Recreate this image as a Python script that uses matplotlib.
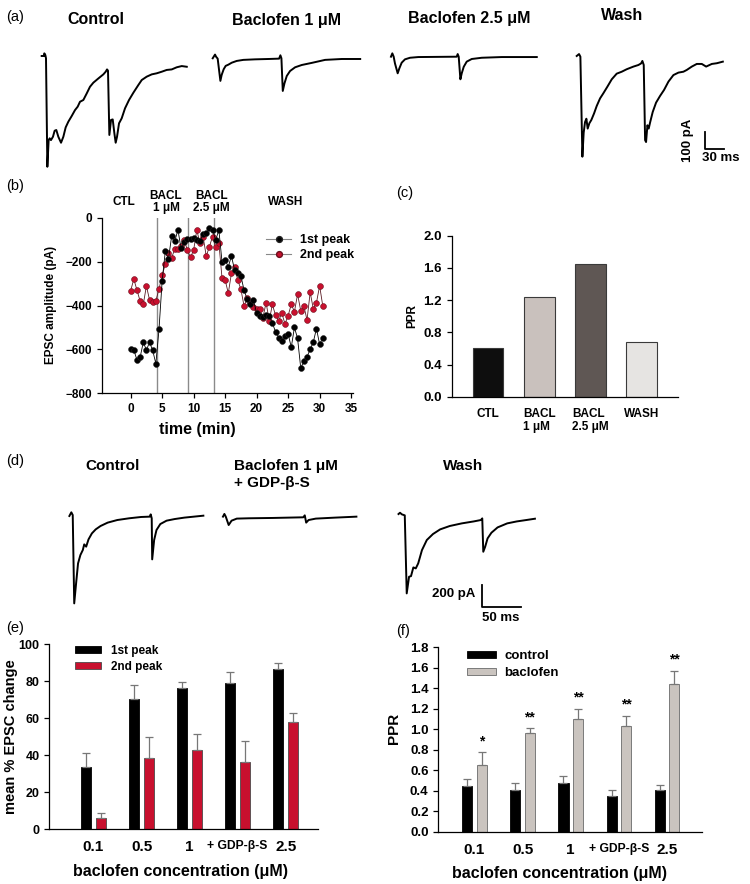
import numpy as np
import matplotlib
matplotlib.use("Agg")
import matplotlib.pyplot as plt
from matplotlib.lines import Line2D

plt.rcParams['font.family'] = ['Liberation Sans', 'DejaVu Sans']
plt.rcParams['font.weight'] = 'bold'
plt.rcParams['axes.labelweight'] = 'bold'
plt.rcParams['axes.linewidth'] = 0.9

# ---------------- data ----------------
# (a) example traces, time (ms) and current (pA)
a_ctl_t = [-4.1, -0.5, 0, 1.6, 2.6, 4.7, 6.7, 8.3, 10.3, 13.4, 16.0, 18.6, 21.7, 25.9, 29.5, 33.1, 37.2,
           42.4, 47.6, 51.7, 55.3, 60.5, 65.7, 70.8, 76, 83.8, 91.5, 95.1, 97.2, 98.7, 100.8, 103.4, 106,
           108.6, 110.6, 112.7, 115.8, 119.9, 125.1, 131.3, 138, 145.8, 151, 158.7, 166.5, 174.2, 182,
           189.7, 197.5, 205.2, 213, 220.8]
a_ctl_i = [4, 4, 19, 9, -9, -623, -472, -462, -472, -453, -419, -415, -453, -487, -453, -400, -368,
           -336, -302, -283, -255, -245, -208, -170, -147, -123, -100, -85, -72, -79, -443, -358, -355,
           -434, -487, -453, -377, -349, -292, -245, -204, -160, -132, -113, -100, -94, -85,
           -75, -72, -60, -53, -57]
a_b1_t = [-3.6, 0, 1.6, 4.1, 8.3, 10.3, 13.4, 16.5, 20.7, 25.9, 33.6, 43.9, 62, 82.7, 99.3, 101.3,
          102.9, 105, 107.6, 111.2, 116.3, 124.1, 134.4, 150, 170.6, 196.5, 225]
a_b1_i = [0, 21, 9, -2, -128, -94, -62, -43, -36, -25, -15, -9, -6, -4, -2, 17,
          0, -185, -142, -100, -72, -51, -38, -26, -9, -4, -4]
a_b25_t = [-2.1, 0, 2.1, 4.1, 8.3, 10.9, 14.5, 19.6, 27.4, 40.3, 99.8, 101.3, 102.9, 105.5, 107.6,
           110.7, 115.3, 123.1, 138.6, 169.6, 223.9]
a_b25_i = [0, 19, 0, -38, -94, -66, -34, -15, -6, -2, 0, 15, 0, -128, -94,
           -57, -28, -13, -6, -2, -2]
a_wash_t = [-3.6, 0, 2.1, 5.2, 7.2, 9.3, 11.4, 13.4, 16, 19.1, 23.3, 27.4, 32.6, 37.7, 43.9, 50.7,
            58.4, 66.2, 73.9, 84.3, 92, 96.2, 98.2, 100.3, 102.4, 103.9, 106, 108, 110.1, 114.2, 119.4,
            125.6, 131.8, 138.6, 146.3, 154.1, 161.8, 167, 174.8, 182.5, 190.3, 197, 205.8, 213.6, 222.9]
a_wash_i = [0, 11, -4, -570, -434, -374, -355, -411, -381, -362, -325, -283, -240, -211, -174, -132,
            -100, -89, -75, -60, -51, -42, -28, -51, -476, -487, -392, -411, -377, -317, -264,
            -226, -192, -145, -108, -94, -89, -79, -60, -45, -45, -60, -45, -41, -32]
a_titles = ['Control', 'Baclofen 1 \u03bcM', 'Baclofen 2.5 \u03bcM', 'Wash']

# (b) time course
time_min = [0, 0.5, 1, 1.5, 2, 2.5, 3, 3.5, 4, 4.5, 5, 5.5, 6, 6.5, 7, 7.5, 8, 8.5, 9, 9.5,
            10, 10.5, 11, 11.5, 12, 12.5, 13, 13.5, 14, 14.5, 15, 15.5, 16, 16.5, 17, 17.5, 18, 18.5,
            19, 19.5, 20, 20.5, 21, 21.5, 22, 22.5, 23, 23.5, 24, 24.5, 25, 25.5, 26, 26.5, 27, 27.5,
            28, 28.5, 29, 29.5, 30, 30.5]
peak1 = [-600, -603, -648, -636, -568, -602, -568, -605, -665, -508,
         -287, -153, -188, -85, -108, -55, -140, -110, -97, -95,
         -92, -100, -108, -72, -68, -48, -55, -103, -55, -200,
         -193, -223, -175, -238, -253, -265, -330, -372, -395, -375,
         -436, -448, -454, -445, -448, -480, -520, -546, -561, -537,
         -530, -590, -500, -550, -684, -655, -633, -600, -566, -505,
         -577, -546]
peak2 = [-332, -280, -330, -380, -395, -311, -375, -385, -378, -325,
         -262, -212, -162, -182, -144, -143, -129, -102, -147, -181,
         -147, -56, -117, -86, -175, -132, -86, -135, -114, -273,
         -284, -344, -253, -223, -284, -326, -402, -367, -390, -405,
         -417, -417, -455, -387, -469, -395, -445, -469, -435, -484,
         -446, -395, -428, -349, -423, -402, -466, -340, -416, -387,
         -310, -402]
drug_times = [4.2, 9.1, 13.3]
phase_labels = ['CTL', 'BACL\n1 \u03bcM', 'BACL\n2.5 \u03bcM', 'WASH']
phase_pos = [-1.0, 5.6, 12.8, 24.6]

# (c) PPR
c_labels = ['CTL', 'BACL\n1 \u03bcM', 'BACL\n2.5 \u03bcM', 'WASH']
c_values = [0.61, 1.24, 1.65, 0.68]
c_colors = ['#0e0e0e', '#c9c1bd', '#5f5754', '#e6e4e2']

# (d) traces with GDP-beta-S
d_ctl_t = [-3.1, -0.6, 1.2, 3.1, 5.5, 8, 11, 14.1, 15.9, 18.4, 21.4, 25.7, 30.6, 36.8, 45.9, 58.2,
           73.5, 88.8, 99.8, 101, 102.3, 102.9, 105.4, 108.4, 113.3, 121.3, 131.7, 144, 156.2, 168.4]
d_ctl_i = [0, 34, 9, -804, -620, -436, -359, -313, -261, -282, -215, -160, -123, -92, -61, -37,
           -21, -9, -6, 15, -21, -399, -221, -129, -74, -43, -28, -15, -6, 3]
d_bac_t = [-1.8, 0, 1.8, 5.5, 9.2, 15.9, 31.2, 61.9, 101, 102.9, 104.7, 107.8, 117, 141.5, 169]
d_bac_i = [0, 25, 0, -77, -37, -18, -15, -12, -6, 12, -55, -31, -18, -9, 0]
d_wash_t = [-8, -6.1, -3.7, 0, 2.5, 5.5, 8, 11, 14.1, 17.2, 22, 28.2, 36.1, 45.3, 57.6, 72.9, 88.2,
            97.4, 99.2, 100.5, 102.9, 106, 110.9, 118.8, 131.1, 143.3, 155.6, 166.6]
d_wash_i = [0, 12, -3, -12, -730, -577, -571, -491, -500, -454, -332, -239, -184, -141, -110, -86, -68,
            -55, -40, -347, -301, -224, -172, -123, -86, -68, -55, -43]

# (e) / (f) concentration groups
conc_labels = ['0.1', '0.5', '1', '+ GDP-\u03b2-S', '2.5']
e_peak1 = [33.9, 70.2, 76.5, 79.0, 86.5]
e_peak1_err = [7.6, 7.6, 3.0, 6.2, 3.6]
e_peak2 = [6.1, 38.8, 42.8, 36.2, 57.8]
e_peak2_err = [2.5, 10.9, 8.6, 11.3, 4.9]
f_ctrl = [0.45, 0.41, 0.48, 0.355, 0.41]
f_ctrl_err = [0.07, 0.065, 0.07, 0.05, 0.045]
f_bac = [0.65, 0.96, 1.10, 1.03, 1.44]
f_bac_err = [0.125, 0.05, 0.10, 0.105, 0.13]
f_stars = ['*', '**', '**', '**', '**']

RED = '#c8102e'

# ---------------- layout helpers ----------------
W, H = 750, 884
fig = plt.figure(figsize=(W / 100, H / 100), dpi=100)


def rect(l, t, r, b):
    return [l / W, 1 - b / H, (r - l) / W, (b - t) / H]


def ftext(x, y, s, **kw):
    fig.text(x / W, 1 - y / H, s, **kw)


def style(ax):
    for s in ['top', 'right']:
        ax.spines[s].set_visible(False)
    ax.tick_params(direction='out', length=3.5, width=0.9)


# panel letters
for lab, x, y in [('(a)', 6, 17), ('(b)', 6, 186), ('(c)', 396, 193),
                  ('(d)', 6, 461), ('(e)', 6, 628), ('(f)', 396, 631)]:
    ftext(x, y, lab, fontsize=10.5, fontweight='normal', va='center')

# ---------------- (a) traces ----------------
ax_a = fig.add_axes(rect(0, 40, 750, 175))
ax_a.set_xlim(-68.7, 1093.8)
ax_a.set_ylim(-669.6, 94.5)
ax_a.axis('off')
a_shift = [0, 264.6, 539.4, 828.8]
a_base = [0, -9, 0, 4]
for (t, i), sx, sy in zip([(a_ctl_t, a_ctl_i), (a_b1_t, a_b1_i), (a_b25_t, a_b25_i), (a_wash_t, a_wash_i)],
                          a_shift, a_base):
    ax_a.plot(np.array(t) + sx, np.array(i) + sy, color='black', lw=1.4, solid_joinstyle='round')
# scale bar 100 pA / 30 ms
ax_a.plot([1024, 1024, 1054], [-424, -524, -524], color='black', lw=1.3)
ax_a.text(998, -474, '100 pA', rotation=90, ha='center', va='center', fontsize=9.5)
ax_a.text(1049, -538, '30 ms', ha='center', va='top', fontsize=9.5)
for s, x, y in zip(a_titles, [96, 287, 469, 622], [20, 20, 19, 15]):
    ftext(x, y, s, ha='center', va='center', fontsize=11.5)

# ---------------- (b) time course ----------------
ax_b = fig.add_axes(rect(101.7, 217.7, 353, 393.3))
style(ax_b)
for t in drug_times:
    ax_b.axvline(t, color='#8a8a8a', lw=1.0, zorder=1)
ax_b.plot(time_min, peak1, '-o', color='black', lw=0.6, ms=4.2, mfc='black', mec='#222222',
          mew=0.4, label='1st peak', zorder=3)
ax_b.plot(time_min, peak2, '-o', color='#5a1a22', lw=0.6, ms=4.2, mfc=RED, mec='#6b0f1d',
          mew=0.4, label='2nd peak', zorder=2)
ax_b.set_xlim(-4.6, 35.3)
ax_b.set_ylim(-800, 0)
ax_b.set_xticks([0, 5, 10, 15, 20, 25, 30, 35])
ax_b.set_yticks([-800, -600, -400, -200, 0])
ax_b.tick_params(labelsize=8.5)
ax_b.set_xlabel('time (min)', fontsize=11.5)
ax_b.set_ylabel('EPSC amplitude (pA)', fontsize=8.5)
ax_b.xaxis.set_label_coords(0.38, -0.165)
ax_b.yaxis.set_label_coords(-0.178, 0.503)
for s, x in zip(phase_labels, phase_pos):
    ax_b.text(x, 1.09, s, transform=ax_b.get_xaxis_transform(), ha='center', va='center',
              fontsize=8.5, linespacing=1.05)
hb = [Line2D([], [], color='#888888', lw=0.8, marker='o', ms=4.2, mfc='black', mec='#222222'),
      Line2D([], [], color='#888888', lw=0.8, marker='o', ms=4.2, mfc=RED, mec='#6b0f1d')]
ax_b.legend(hb, ['1st peak', '2nd peak'], loc='upper left', bbox_to_anchor=(0.63, 0.94),
            frameon=False, fontsize=9, handlelength=2.0, handletextpad=0.7, labelspacing=0.2,
            borderpad=0)

# ---------------- (c) PPR bars ----------------
ax_c = fig.add_axes(rect(451.7, 235.7, 677.7, 396.7))
style(ax_c)
ax_c.bar(range(len(c_values)), c_values, width=0.6, color=c_colors, edgecolor='#3a3a3a', lw=0.8)
ax_c.set_xlim(-0.71, 3.70)
ax_c.set_ylim(0, 2.0)
cy = [0.0, 0.4, 0.8, 1.2, 1.6, 2.0]
ax_c.set_yticks(cy)
ax_c.set_yticklabels(['%.1f' % v for v in cy])
ax_c.set_xticks(range(len(c_labels)))
ax_c.set_xticklabels(c_labels, fontsize=8.5, linespacing=1.15)
for lbl in ax_c.get_xticklabels():
    lbl.set_multialignment('left')
ax_c.tick_params(axis='x', length=0, pad=8)
ax_c.tick_params(axis='y', labelsize=9.5)
ax_c.set_ylabel('PPR', fontsize=8.5)
ax_c.yaxis.set_label_coords(-0.149, 0.5)

# ---------------- (d) traces ----------------
ax_d = fig.add_axes(rect(0, 500, 750, 625))
ax_d.set_xlim(-91.9, 868.1)
ax_d.set_ylim(-1002.8, 147.2)
ax_d.axis('off')
d_shift = [0, 195.3, 426.2]
d_base = [0, -6, 18]
for (t, i), sx, sy in zip([(d_ctl_t, d_ctl_i), (d_bac_t, d_bac_i), (d_wash_t, d_wash_i)], d_shift, d_base):
    ax_d.plot(np.array(t) + sx, np.array(i) + sy, color='black', lw=1.4, solid_joinstyle='round')
ax_d.plot([524.7, 524.7, 574.7], [-635, -835, -835], color='black', lw=1.3)
ax_d.text(517, -718, '200 pA', ha='right', va='center', fontsize=9.5)
ax_d.text(549, -880, '50 ms', ha='center', va='top', fontsize=9.5)
ftext(113, 466, 'Control', ha='center', va='center', fontsize=11)
ftext(234, 466, 'Baclofen 1 \u03bcM', ha='left', va='center', fontsize=11)
ftext(234, 483, '+ GDP-\u03b2-S', ha='left', va='center', fontsize=11)
ftext(463, 466, 'Wash', ha='center', va='center', fontsize=11)


# ---------------- (e) / (f) grouped bars ----------------
def conc_ticks(ax):
    ax.set_xticks(range(len(conc_labels)))
    ax.set_xticklabels(conc_labels)
    for lbl in ax.get_xticklabels():
        lbl.set_fontsize(8.7 if 'GDP' in lbl.get_text() else 11)
    ax.tick_params(axis='x', length=0, pad=8)
    ax.set_xlabel('baclofen concentration (\u03bcM)', fontsize=11.5)


x = np.arange(len(conc_labels))
ax_e = fig.add_axes(rect(49.3, 644.3, 318.3, 829.3))
style(ax_e)
ax_e.bar(x - 0.156, e_peak1, width=0.208, color='black', edgecolor='black', lw=0.6, label='1st peak')
ax_e.bar(x + 0.156, e_peak2, width=0.208, color=RED, edgecolor='#4a4a4a', lw=0.6, label='2nd peak')
ax_e.errorbar(x - 0.156, e_peak1, yerr=[[0] * 5, e_peak1_err], fmt='none', ecolor='#777777',
              elinewidth=0.9, capsize=3, capthick=0.9)
ax_e.errorbar(x + 0.156, e_peak2, yerr=[[0] * 5, e_peak2_err], fmt='none', ecolor='#777777',
              elinewidth=0.9, capsize=3, capthick=0.9)
ax_e.set_xlim(-0.92, 4.68)
ax_e.set_ylim(0, 100)
ax_e.set_yticks([0, 20, 40, 60, 80, 100])
ax_e.tick_params(axis='y', labelsize=9)
conc_ticks(ax_e)
ax_e.xaxis.set_label_coords(0.486, -0.19)
ax_e.set_ylabel('mean % EPSC change', fontsize=10.5)
ax_e.yaxis.set_label_coords(-0.116, 0.5)
ax_e.legend(loc='upper left', bbox_to_anchor=(0.075, 1.03), frameon=False, fontsize=8.5,
            handlelength=2.2, handleheight=0.45, handletextpad=0.8, labelspacing=0.35, borderpad=0)

ax_f = fig.add_axes(rect(438.3, 647.3, 701.7, 832))
style(ax_f)
ax_f.bar(x - 0.15, f_ctrl, width=0.208, color='black', edgecolor='black', lw=0.6, label='control')
ax_f.bar(x + 0.15, f_bac, width=0.208, color='#cac4bf', edgecolor='#7a7a7a', lw=0.7, label='baclofen')
ax_f.errorbar(x - 0.15, f_ctrl, yerr=[[0] * 5, f_ctrl_err], fmt='none', ecolor='#777777',
              elinewidth=0.9, capsize=3, capthick=0.9)
ax_f.errorbar(x + 0.15, f_bac, yerr=[[0] * 5, f_bac_err], fmt='none', ecolor='#777777',
              elinewidth=0.9, capsize=3, capthick=0.9)
for xi, v, e, s in zip(x, f_bac, f_bac_err, f_stars):
    ax_f.text(xi + 0.15, v + e + 0.04, s, ha='center', va='bottom', fontsize=10)
ax_f.set_xlim(-0.75, 4.72)
ax_f.set_ylim(0, 1.8)
fy = [0.0, 0.2, 0.4, 0.6, 0.8, 1.0, 1.2, 1.4, 1.6, 1.8]
ax_f.set_yticks(fy)
ax_f.set_yticklabels(['%.1f' % v for v in fy])
ax_f.tick_params(axis='y', labelsize=9.5)
conc_ticks(ax_f)
ax_f.xaxis.set_label_coords(0.462, -0.184)
ax_f.set_ylabel('PPR', fontsize=11)
ax_f.yaxis.set_label_coords(-0.142, 0.56)
ax_f.legend(loc='upper left', bbox_to_anchor=(0.085, 1.02), frameon=False, fontsize=9.5,
            handlelength=2.2, handleheight=0.45, handletextpad=0.6, labelspacing=0.35, borderpad=0)

fig.savefig('out.png', dpi=100)
